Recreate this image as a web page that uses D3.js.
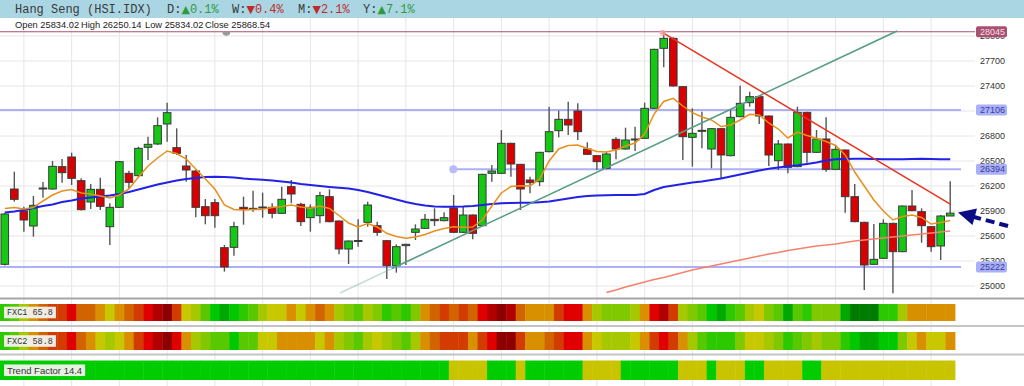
<!DOCTYPE html>
<html>
<head>
<meta charset="utf-8">
<script src="https://cdn.jsdelivr.net/npm/d3@7/dist/d3.min.js"></script>
<style>
  body { margin: 0; background: #fff; }
  svg { display: block; }
</style>
</head>
<body>
<div id="chart"></div>
<script>
// Hang Seng daily candles
const opens = [
  25254,26158,25894,25714,26162,26158,26426,26542,26258,26002,
  26154,25706,25938,26346,26318,26658,26698,26938,26654,26434,
  26374,25946,25994,25454,25458,25938,25914,25938,25938,25866,
  26186,25974,25814,25838,26066,25774,25438,25534,25758,25718,
  25538,25238,25478,25638,25686,25794,25778,25930,25638,25846,
  25718,26346,26346,26706,26454,26266,26246,26606,26858,26994,
  27094,26638,26558,26406,26754,26638,26758,26766,27126,27846,
  27966,27386,26778,26858,26638,26882,26558,27026,27194,27266,
  27034,26498,26698,26426,27078,26598,26758,26394,26626,26066,
  25758,25254,25326,25746,25406,25954,25886,25706,25474,25834.02
];
const highs = [
  25870,26366,25946,26074,26242,26494,26518,26594,26286,26218,
  26294,25986,26494,26378,26666,26786,27018,27194,26886,26566,
  26386,26038,26038,25486,25766,26066,26138,26114,25986,26186,
  26266,25994,25974,26126,26154,25780,25540,25794,26006,25766,
  25544,25494,25500,25734,25858,25926,25878,26086,25946,25852,
  26340,26446,26866,26712,26460,26306,26604,27146,27098,27206,
  27186,26718,26564,26606,26778,26894,26906,27194,27840,28045,
  27980,27392,27126,27086,26888,26888,27106,27398,27326,27272,
  27040,26746,26704,27146,27084,26866,27018,26674,26632,26218,
  25764,25738,25794,25752,25960,26146,25926,25712,25846,26250.14
];
const lows = [
  25240,26006,25646,25586,26054,26150,26234,26206,25900,25918,
  25906,25486,25930,26158,26298,26506,26686,26726,26566,26246,
  25818,25734,25694,25166,25358,25730,25886,25814,25806,25858,
  25986,25714,25646,25746,25758,25374,25258,25466,25706,25598,
  25078,25154,25246,25546,25680,25714,25770,25630,25630,25554,
  25712,26246,26340,26306,25906,26106,26194,26600,26778,26806,
  26746,26568,26386,26394,26514,26630,26614,26760,27120,27618,
  27388,26506,26426,26646,26406,26286,26550,27020,27146,26938,
  26434,26386,26346,26420,26474,26592,26366,26388,25874,25760,
  24946,25248,25320,24906,25400,25892,25514,25406,25306,25834.02
];
const closes = [
  25858,26034,25786,25962,26170,26430,26354,26286,25910,26154,
  25950,25938,26486,26238,26646,26694,26918,27074,26586,26386,
  25938,25838,25838,25222,25706,25914,25926,25942,25866,26034,
  26098,25766,25938,26078,25766,25438,25534,25540,25966,25638,
  25238,25466,25494,25678,25794,25778,25814,25638,25846,25626,
  26334,26374,26706,26458,26158,26234,26598,26846,26994,26926,
  26846,26574,26486,26578,26638,26746,26752,27126,27834,27966,
  27394,26786,26826,26862,26882,26566,27018,27186,27266,27034,
  26566,26698,26418,27078,26598,26758,26394,26634,26066,25766,
  25246,25314,25746,25406,25954,25898,25718,25466,25834,25868.54
];

// moving averages (orange short, blue medium, salmon long)
const maFast = [
  25924,25936,25918,25936,26014,26086,26134,26152,26110,26098,
  26074,26050,26086,26158,26302,26434,26530,26614,26584,26518,
  26398,26278,26158,25966,25912,25906,25912,25914,25936,25948,
  25966,25942,25926,25954,25924,25840,25750,25702,25744,25702,
  25626,25588,25566,25582,25612,25654,25684,25706,25698,25702,
  25786,25954,26110,26188,26198,26194,26278,26494,26638,26680,
  26686,26644,26608,26602,26626,26674,26710,26818,27058,27208,
  27246,27154,27074,27022,26986,26908,26926,26986,27054,27046,
  26950,26878,26770,26842,26800,26766,26728,26680,26566,26362,
  26194,26026,25894,25786,25828,25846,25816,25738,25756,25780
];
const maSlow = [
  25876,25888,25906,25930,25954,25972,26002,26020,26044,26056,
  26068,26080,26098,26122,26152,26182,26212,26236,26260,26278,
  26290,26302,26306,26302,26296,26284,26276,26268,26260,26248,
  26236,26218,26206,26194,26182,26172,26164,26146,26122,26092,
  26062,26032,26002,25978,25960,25948,25946,25946,25948,25954,
  25966,25978,25986,25990,25994,25994,26000,26008,26026,26044,
  26062,26074,26080,26084,26086,26086,26086,26098,26146,26182,
  26200,26218,26236,26248,26266,26284,26308,26332,26356,26380,
  26400,26416,26430,26442,26458,26476,26500,26514,26518,26520,
  26522,26518,26516,26514,26516,26518,26520,26518,26516,26514
];
const MA_LONG_START = 63;
const maLong = [
  24916,24946,24982,25012,25042,25072,25096,25126,25156,25186,
  25210,25234,25258,25282,25306,25330,25354,25378,25396,25420,
  25438,25456,25474,25486,25498,25516,25534,25546,25558,25570,
  25582,25594,25606,25618,25630,25642,25654
];

const priceTicks = d3.range(25000, 28001, 300);

// horizontal levels: value, start (candle index)
const highLevel = { value: 28045, from: -0.5, handle: 23.2 };
const resLevels = [
  { value: 27106, from: -0.5 },
  { value: 26394, from: 46.97, handle: 46.97 },
  { value: 25222, from: -0.5 }
];

// trend lines as [candle index, price]
const trendUp = [[35.1, 24910], [93.43, 28054]];
const trendUpSolidFrom = 40.55;
const trendDown = [[68.89, 28034], [99.05, 25974]];

// header
const title = "Hang Seng (HSI.IDX)";
const changes = [
  { k: "D", v: 0.1 }, { k: "W", v: -0.4 }, { k: "M", v: -2.1 }, { k: "Y", v: 7.1 }
];

// indicator bands (colour level 0 = strong green ... 13 = dark red)
const fxc1 = [
  3,4,6,8,9,10,10,11,9,9,
  8,7,8,9,10,11,12,13,10,7,
  6,4,2,1,2,3,4,6,7,7,
  8,7,8,9,8,6,5,4,6,5,
  3,4,3,5,8,9,10,9,10,9,
  11,12,13,12,9,8,8,8,10,11,
  11,8,6,5,5,5,6,8,11,12,
  10,6,5,4,2,1,3,4,6,7,
  5,4,1,4,3,5,5,5,1,0,
  0,0,3,3,6,8,8,8,8,8
];
const fxc2 = [
  3,4,6,8,9,10,10,11,9,8,
  7,6,7,8,10,11,12,13,11,8,
  6,5,4,4,2,4,4,7,7,8,
  8,8,8,7,8,6,5,4,6,7,
  6,5,4,6,8,9,10,10,10,8,
  10,11,13,13,10,8,8,9,10,11,
  11,8,7,6,6,6,7,8,10,11,
  10,8,6,4,3,3,3,5,7,7,
  6,5,3,4,5,6,5,5,3,2,
  1,1,2,2,5,7,8,7,7,8
];
const fxc1Value = 65.8, fxc2Value = 58.8, trendValue = 14.4;
const trendRuns = [
  [47,"up"],[4,"flat"],[3,"up"],[1,"flat"],[6,"up"],[4,"flat"],[6,"up"],
  [3,"flat"],[1,"up"],[3,"flat"],[2,"up"],[4,"flat"],[2,"up"],[14,"flat"]
];

// ---- layout ----
const WIDTH = 1024, HEIGHT = 386;
const PLOT_W = 955, GRID_W = 975, PLOT_TOP = 18, PLOT_BOTTOM = 298;
const FXC_COLORS = ["#007d00","#00a800","#00c800","#2cc800","#58c800","#80c800","#a6c800",
  "#c8c800","#d89000","#d26400","#d23c00","#e00000","#b20000","#8e0000"];
const TREND_COLORS = { up: "#00cc00", flat: "#c8c400" };

const svg = d3.select("#chart").append("svg")
  .attr("width", WIDTH).attr("height", HEIGHT)
  .style("font-family", "'Liberation Sans', Arial, sans-serif");

const x = d3.scaleBand().domain(d3.range(opens.length)).range([0, PLOT_W]);
const cx = i => x(i) + x.bandwidth() / 2;
const xi = t => x.step() * (t + 0.5); // fractional candle index
const y = d3.scaleLinear().domain([24850, 28210]).range([PLOT_BOTTOM, PLOT_TOP]);

svg.append("defs").append("clipPath").attr("id", "plotclip")
  .append("rect").attr("x", 0).attr("y", PLOT_TOP).attr("width", GRID_W).attr("height", PLOT_BOTTOM - PLOT_TOP);

// vertical grid (through plot and bands)
const vgrid = svg.append("g").attr("transform", `translate(0,${PLOT_TOP})`)
  .call(d3.axisBottom(x).tickValues(d3.range(opens.length).filter(i => i % 5 === 2))
    .tickSize(HEIGHT - PLOT_TOP).tickFormat(""));
vgrid.select(".domain").remove();
vgrid.selectAll("line").attr("stroke", "#e6e6e6");

// price axis + horizontal grid
const yAxis = svg.append("g").attr("transform", `translate(${GRID_W},0)`)
  .call(d3.axisRight(y).tickValues(priceTicks).tickSize(-GRID_W).tickPadding(5).tickFormat(d3.format("d")));
yAxis.select(".domain").remove();
yAxis.selectAll("line").attr("stroke", "#e6e6e6");
yAxis.selectAll("text").attr("fill", "#333").style("font-size", "9px")
  .style("font-family", "'Liberation Sans', Arial, sans-serif");

const plot = svg.append("g").attr("clip-path", "url(#plotclip)");

// levels
plot.append("line")
  .attr("x1", xi(highLevel.from)).attr("x2", GRID_W)
  .attr("y1", y(highLevel.value)).attr("y2", y(highLevel.value))
  .attr("stroke", "#a8506e").attr("stroke-width", 1);
plot.selectAll(".res").data(resLevels).join("line")
  .attr("x1", d => Math.max(0, xi(d.from))).attr("x2", PLOT_W + 6)
  .attr("y1", d => y(d.value)).attr("y2", d => y(d.value))
  .attr("stroke", "#adb0f6").attr("stroke-width", 2);
plot.selectAll(".reshandle").data(resLevels.filter(d => d.handle != null)).join("circle")
  .attr("cx", d => xi(d.handle)).attr("cy", d => y(d.value)).attr("r", 4)
  .attr("fill", "#b8bbf8");
{
  const hx = xi(highLevel.handle), hy = y(highLevel.value);
  plot.append("path").attr("d", `M${hx - 4},${hy} A4,4 0 0 0 ${hx + 4},${hy} Z`).attr("fill", "#9a9a9a");
}

// candles
const idx = d3.range(opens.length);
const up = i => closes[i] >= opens[i];
const BODY = 7.6;
const candles = plot.append("g");
candles.selectAll("line").data(idx).join("line")
  .attr("x1", cx).attr("x2", cx)
  .attr("y1", i => y(highs[i])).attr("y2", i => y(lows[i]))
  .attr("stroke", "#555").attr("stroke-width", 1.4);
candles.selectAll("rect").data(idx).join("rect")
  .attr("x", i => cx(i) - BODY / 2).attr("width", BODY)
  .attr("y", i => y(Math.max(opens[i], closes[i])))
  .attr("height", i => Math.max(1, Math.abs(y(opens[i]) - y(closes[i]))))
  .attr("fill", i => up(i) ? "#14c814" : "#d80000")
  .attr("stroke", "#3a3a3a").attr("stroke-width", 1);

// moving averages
const line = d3.line().x((d, i) => cx(i)).y(d => y(d));
plot.append("path").attr("d", line(maSlow)).attr("fill", "none").attr("stroke", "#2222e6").attr("stroke-width", 2);
plot.append("path").attr("d", line(maFast)).attr("fill", "none").attr("stroke", "#e8901c").attr("stroke-width", 1.5);
plot.append("path")
  .attr("d", d3.line().x((d, i) => cx(i + MA_LONG_START)).y(d => y(d))(maLong))
  .attr("fill", "none").attr("stroke", "#f4826e").attr("stroke-width", 1.5);

// trend lines
const tline = d3.line().x(d => xi(d[0])).y(d => y(d[1]));
plot.append("path").attr("d", tline(trendUp)).attr("stroke", "#5a9e86").attr("stroke-width", 1.5)
  .attr("opacity", 0.35).attr("fill", "none");
{
  const [[i0, p0], [i1, p1]] = trendUp;
  const pMid = p0 + (p1 - p0) * (trendUpSolidFrom - i0) / (i1 - i0);
  plot.append("path").attr("d", tline([[trendUpSolidFrom, pMid], trendUp[1]]))
    .attr("stroke", "#5a9e86").attr("stroke-width", 1.5).attr("fill", "none");
}
plot.append("path").attr("d", tline(trendDown)).attr("stroke", "#e8341e").attr("stroke-width", 1.5).attr("fill", "none");
plot.append("circle").attr("cx", xi(trendDown[0][0])).attr("cy", y(trendDown[0][1])).attr("r", 3)
  .attr("fill", "#f3a2a2").attr("opacity", 0.8);

// level labels on the price axis
const tagG = svg.append("g");
const tags = [{ value: highLevel.value, fill: "#a8506e", text: "#f7dde8" }]
  .concat(resLevels.map(d => ({ value: d.value, fill: "#aab0f8", text: "#3a3c9a" })));
tagG.selectAll("rect").data(tags).join("rect")
  .attr("x", 976).attr("y", d => y(d.value) - 5.5).attr("width", 31).attr("height", 11).attr("rx", 2)
  .attr("fill", d => d.fill);
tagG.selectAll("text").data(tags).join("text")
  .attr("x", 980).attr("y", d => y(d.value)).attr("dy", "0.34em")
  .attr("fill", d => d.text).style("font-size", "9px").text(d => d.value);

// arrow annotation
svg.append("line").attr("x1", 1008).attr("y1", 226).attr("x2", 974).attr("y2", 217)
  .attr("stroke", "#0c0c86").attr("stroke-width", 4).attr("stroke-dasharray", "9,5");
svg.append("polygon").attr("points", "958,212.5 977,208.5 972.5,225").attr("fill", "#0c0c86");

// header bar
svg.append("rect").attr("x", 0).attr("y", 0).attr("width", WIDTH).attr("height", PLOT_TOP).attr("fill", "#aad6e4");
const mono = "'Liberation Mono', 'Courier New', monospace";
svg.append("text").attr("x", 15).attr("y", 12.5).style("font-family", mono).style("font-size", "12px")
  .attr("fill", "#3a3a3a").text(title);
const chX = [167, 232, 298, 363];
changes.forEach((c, k) => {
  const col = c.v >= 0 ? "#2f9a3a" : "#c02a2a";
  const t = svg.append("text").attr("x", chX[k]).attr("y", 12.5)
    .style("font-family", mono).style("font-size", "12px");
  t.append("tspan").attr("fill", "#3a3a3a").text(c.k + ":");
  t.append("tspan").attr("fill", col).style("font-family", "'DejaVu Sans', sans-serif")
    .style("font-size", "11px").text(c.v >= 0 ? "\u25B2" : "\u25BC");
  t.append("tspan").attr("fill", col).text(Math.abs(c.v).toFixed(1) + "%");
});

// OHLC info line for the last candle
const last = opens.length - 1;
const info = [
  ["Open", opens[last], 15], ["High", highs[last], 81],
  ["Low", lows[last], 145], ["Close", closes[last], 205]
];
svg.selectAll(".info").data(info).join("text")
  .attr("x", d => d[2]).attr("y", 28).attr("fill", "#222").style("font-size", "9.3px")
  .text(d => `${d[0]} ${d[1].toFixed(2)}`);

// separators
[[298.5, "#a6a6a6"], [326, "#c4c4c4"], [354.5, "#c4c4c4"]].forEach(([yy, c]) => {
  svg.append("line").attr("x1", 0).attr("x2", WIDTH).attr("y1", yy).attr("y2", yy)
    .attr("stroke", c).attr("stroke-width", 2);
});

// bands
const trendState = trendRuns.flatMap(([n, s]) => Array(n).fill(s));
const bands = [
  { y0: 304, h: 17, colors: fxc1.map(v => FXC_COLORS[v]), label: `FXC1 ${fxc1Value.toFixed(1)}`, font: mono, size: "8.5px" },
  { y0: 332, h: 18, colors: fxc2.map(v => FXC_COLORS[v]), label: `FXC2 ${fxc2Value.toFixed(1)}`, font: mono, size: "8.5px" },
  { y0: 360.5, h: 19.5, colors: trendState.map(s => TREND_COLORS[s]), label: `Trend Factor ${trendValue}`,
    font: "'Liberation Sans', Arial, sans-serif", size: "9.5px" }
];
bands.forEach(b => {
  const g = svg.append("g");
  g.selectAll("rect").data(b.colors).join("rect")
    .attr("x", (d, i) => x(i)).attr("width", x.step() + 0.4)
    .attr("y", b.y0).attr("height", b.h).attr("fill", d => d);
  const lbl = g.append("g");
  const bg = lbl.append("rect").attr("fill", "#f2f2ee").attr("opacity", 0.95);
  const t = lbl.append("text").attr("x", 7).attr("y", b.y0 + b.h / 2).attr("dy", "0.35em")
    .style("font-family", b.font).style("font-size", b.size).attr("fill", "#333").text(b.label);
  const bb = t.node().getBBox();
  bg.attr("x", 4).attr("y", b.y0 + b.h / 2 - 5.8).attr("width", bb.width + 6).attr("height", 11.6);
});
</script>
</body>
</html>
